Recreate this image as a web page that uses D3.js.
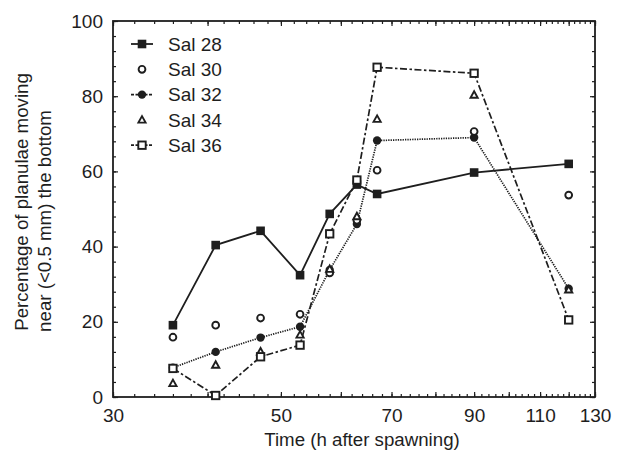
<!DOCTYPE html>
<html>
<head>
<meta charset="utf-8">
<script src="https://cdn.jsdelivr.net/npm/d3@7/dist/d3.min.js"></script>
<style>
  html, body { margin: 0; padding: 0; background: #fff; }
  svg text { font-family: "Liberation Sans", Arial, Helvetica, sans-serif; fill: #1e1e1e; }
</style>
</head>
<body>
<svg id="chart" width="618" height="458"></svg>
<script>
// Sampling times (h after spawning)
const times = [36, 41, 47, 53, 58, 63, 67, 90, 120];

// Percentage of planulae near the bottom, per salinity
const sal28 = [19.1, 40.4, 44.2, 32.4, 48.7, 56.5, 54.0, 59.7, 62.0];
const sal30 = [15.9, 19.1, 21.0, 22.0, 33.0, 47.0, 60.3, 70.6, 53.7];
const sal32 = [7.8, 12.0, 15.8, 18.7, 33.8, 46.0, 68.2, 69.0, 28.8];
const sal34 = [3.6, 8.5, 12.0, 16.5, 34.0, 48.0, 73.9, 80.3, 28.5];
const sal36 = [7.6, 0.4, 10.7, 13.8, 43.4, 57.7, 87.7, 86.1, 20.5];

const seriesNames = ["Sal 28", "Sal 30", "Sal 32", "Sal 34", "Sal 36"];

// Axis ticks
const xMajorTicks = [30, 40, 50, 60, 70, 80, 90, 100, 110, 120, 130];
const xLabelTicks = [30, 50, 70, 90, 110, 130];
const xMinorTicks = d3.range(30, 131, 2);
const yMajorTicks = [0, 20, 40, 60, 80, 100];
const yMinorTicks = d3.range(0, 101, 4);

const svg = d3.select("#chart");
const ink = "#1e1e1e";

const plotLeft = 113, plotRight = 595, plotTop = 21, plotBottom = 397;
const x = d3.scaleLog().domain([30, 130]).range([plotLeft, plotRight]);
const y = d3.scaleLinear().domain([0, 100]).range([plotBottom, plotTop]);

// Frame
svg.append("rect")
  .attr("x", plotLeft).attr("y", plotTop)
  .attr("width", plotRight - plotLeft).attr("height", plotBottom - plotTop)
  .attr("fill", "none").attr("stroke", ink).attr("stroke-width", 1.8);

function styleAxis(g) {
  g.select(".domain").remove();
  g.selectAll(".tick line").attr("stroke", ink).attr("stroke-width", 1.2);
  g.selectAll("text").attr("font-size", 19).style("fill", ink);
}

// Bottom axis: labelled majors, plus minor ticks
svg.append("g").attr("transform", `translate(0,${plotBottom})`)
  .call(d3.axisBottom(x).tickValues(xMajorTicks).tickSize(-5).tickPadding(12)
    .tickFormat(d => xLabelTicks.includes(d) ? d : ""))
  .call(styleAxis);
svg.append("g").attr("transform", `translate(0,${plotBottom})`)
  .call(d3.axisBottom(x).tickValues(xMinorTicks).tickSize(-3).tickFormat(""))
  .call(styleAxis);
// Top mirror ticks
svg.append("g").attr("transform", `translate(0,${plotTop})`)
  .call(d3.axisTop(x).tickValues(xMajorTicks).tickSize(-5).tickFormat(""))
  .call(styleAxis);
svg.append("g").attr("transform", `translate(0,${plotTop})`)
  .call(d3.axisTop(x).tickValues(xMinorTicks).tickSize(-3).tickFormat(""))
  .call(styleAxis);

// Left axis
svg.append("g").attr("transform", `translate(${plotLeft},0)`)
  .call(d3.axisLeft(y).tickValues(yMajorTicks).tickSize(-5).tickPadding(10))
  .call(styleAxis);
svg.append("g").attr("transform", `translate(${plotLeft},0)`)
  .call(d3.axisLeft(y).tickValues(yMinorTicks).tickSize(-3).tickFormat(""))
  .call(styleAxis);
// Right mirror ticks
svg.append("g").attr("transform", `translate(${plotRight},0)`)
  .call(d3.axisRight(y).tickValues(yMajorTicks).tickSize(-5).tickFormat(""))
  .call(styleAxis);
svg.append("g").attr("transform", `translate(${plotRight},0)`)
  .call(d3.axisRight(y).tickValues(yMinorTicks).tickSize(-3).tickFormat(""))
  .call(styleAxis);

// Axis titles
svg.append("text")
  .attr("x", 362).attr("y", 446)
  .attr("text-anchor", "middle").attr("font-size", 18.7)
  .text("Time (h after spawning)");

svg.append("text")
  .attr("transform", "translate(28,202) rotate(-90)")
  .attr("text-anchor", "middle").attr("font-size", 18.7)
  .text("Percentage of planulae moving");
svg.append("text")
  .attr("transform", "translate(51,221) rotate(-90)")
  .attr("text-anchor", "middle").attr("font-size", 18.7)
  .text("near (<0.5 mm) the bottom");

// Marker drawers
const markers = {
  filledSquare: (g, cx, cy) => g.append("rect")
    .attr("x", cx - 4.3).attr("y", cy - 4.3).attr("width", 8.6).attr("height", 8.6)
    .attr("fill", ink),
  openCircle: (g, cx, cy) => g.append("circle")
    .attr("cx", cx).attr("cy", cy).attr("r", 3.4)
    .attr("fill", "#fff").attr("stroke", ink).attr("stroke-width", 1.9),
  filledCircle: (g, cx, cy) => g.append("circle")
    .attr("cx", cx).attr("cy", cy).attr("r", 4.2)
    .attr("fill", ink),
  openTriangle: (g, cx, cy) => g.append("path")
    .attr("d", `M${cx},${cy - 3.8}L${cx + 3.6},${cy + 2.7}L${cx - 3.6},${cy + 2.7}Z`)
    .attr("fill", "#fff").attr("stroke", ink).attr("stroke-width", 1.9)
    .attr("stroke-linejoin", "miter"),
  openSquare: (g, cx, cy) => g.append("rect")
    .attr("x", cx - 3.7).attr("y", cy - 3.7).attr("width", 7.4).attr("height", 7.4)
    .attr("fill", "#fff").attr("stroke", ink).attr("stroke-width", 1.9)
};

const series = [
  { name: seriesNames[0], values: sal28, marker: "filledSquare", line: true, dash: null, width: 1.8 },
  { name: seriesNames[2], values: sal32, marker: "filledCircle", line: true, dash: "1.3,1.1", width: 1.7 },
  { name: seriesNames[1], values: sal30, marker: "openCircle", line: false },
  { name: seriesNames[3], values: sal34, marker: "openTriangle", line: false },
  { name: seriesNames[4], values: sal36, marker: "openSquare", line: true, dash: "7,2.5,2.5,2.5", width: 1.7 }
];

const lineGen = d3.line().x(d => x(d[0])).y(d => y(d[1]));

// Lines first, then markers on top
series.filter(s => s.line).forEach(s => {
  svg.append("path")
    .datum(times.map((t, i) => [t, s.values[i]]))
    .attr("d", lineGen)
    .attr("fill", "none").attr("stroke", ink)
    .attr("stroke-width", s.width)
    .attr("stroke-dasharray", s.dash);
});
series.forEach(s => {
  const g = svg.append("g");
  times.forEach((t, i) => markers[s.marker](g, x(t), y(s.values[i])));
});

// Legend
const legendOrder = [series[0], series[2], series[1], series[3], series[4]];
const legend = svg.append("g");
legendOrder.forEach((s, i) => {
  const cy = 44 + i * 25.3;
  if (s.line) {
    legend.append("line")
      .attr("x1", 131).attr("x2", 153).attr("y1", cy).attr("y2", cy)
      .attr("stroke", ink).attr("stroke-width", s.width)
      .attr("stroke-dasharray", s.dash ? "3,1.5" : null);
  }
  markers[s.marker](legend, 142, cy);
  legend.append("text")
    .attr("x", 168).attr("y", cy).attr("dy", "0.36em")
    .attr("font-size", 19).text(s.name);
});
</script>
</body>
</html>
